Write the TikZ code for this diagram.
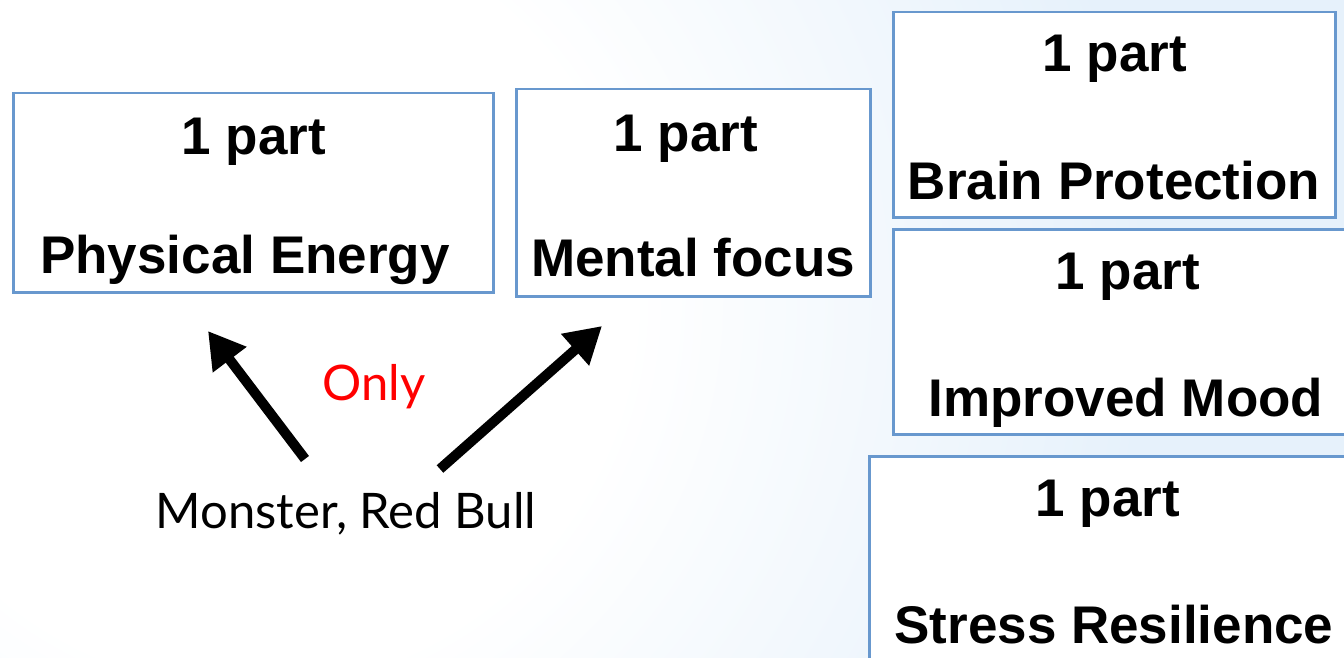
\documentclass[tikz,border=0pt]{standalone}
\usepackage{fontspec}
\setmainfont{Liberation Sans}
\newfontfamily\gillfont{Lato}
\usetikzlibrary{arrows.meta}
\definecolor{boxblue}{RGB}{104,152,206}
\definecolor{bgblue}{RGB}{230,241,251}
\definecolor{onlyred}{RGB}{255,0,0}
% 25bp of the shading = the circle's radius (1200pt): 1bp = 48pt
\pgfdeclareradialshading{bgrad}{\pgfpoint{0bp}{0bp}}{color(0bp)=(white); color(7.9bp)=(white); color(18.75bp)=(bgblue); color(50bp)=(bgblue)}
\begin{document}
\begin{tikzpicture}[x=1pt,y=-1pt,
  partbox/.style={draw=boxblue, line width=2.5pt, fill=white, anchor=north west, inner sep=0pt},
  boldlbl/.style={anchor=base, inner sep=0pt, font=\fontsize{53}{60}\selectfont\bfseries},
  plainlbl/.style={anchor=base, inner sep=0pt, font=\gillfont\fontsize{49}{56}\selectfont},
  fatarrow/.style={line width=10pt, -{Triangle[length=36pt,width=40pt]}}]
\useasboundingbox (0,0) rectangle (1344,658);
\clip (0,0) rectangle (1344,658);
\shade[shading=bgrad] (250,300) circle (1200);

% boxes
\node[partbox, minimum width=480pt, minimum height=199pt] (b1) at (12,92) {};
\node[partbox, minimum width=354pt, minimum height=207pt] (b2) at (515,88) {};
\node[partbox, minimum width=442pt, minimum height=205pt] (b3) at (892,11) {};
\node[partbox, minimum width=478pt, minimum height=205pt] (b4) at (892,228) {};
\node[partbox, minimum width=502pt, minimum height=245pt] (b5) at (868,455) {};

% texts
\node[boldlbl] (b1a) at (254,154) {1 part};
\node[boldlbl] (b1b) at (245,273) {Physical Energy};
\node[boldlbl] (b2a) at (686,151) {1 part};
\node[boldlbl] (b2b) at (693,276) {Mental focus};
\node[boldlbl] (b3a) at (1115,72) {1 part};
\node[boldlbl] (b3b) at (1114,199) {Brain Protection};
\node[boldlbl] (b4a) at (1128,289) {1 part};
\node[boldlbl] (b4b) at (1126,416) {Improved Mood};
\node[boldlbl] (b5a) at (1108,516) {1 part};
\node[boldlbl] (b5b) at (1114,643) {Stress Resilience};

\node[plainlbl] (src) at (346,528) {Monster, Red Bull};
\node[plainlbl, text=onlyred] (only) at (374,400) {Only};

% arrows
\coordinate (l0) at (305,459);
\coordinate (l1) at (208,331);
\coordinate (r0) at (440,469);
\coordinate (r1) at (602,326);
\draw[fatarrow] (l0) -- (l1);
\draw[fatarrow] (r0) -- (r1);
\end{tikzpicture}
\end{document}
